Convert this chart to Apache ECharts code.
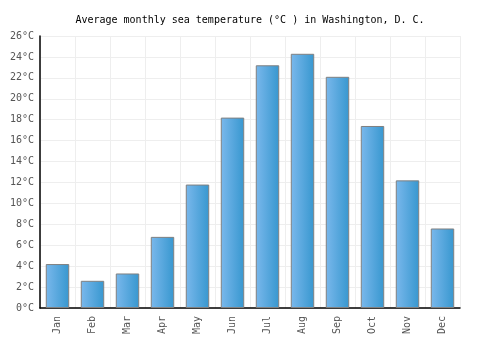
<!DOCTYPE html>
<html>
<head>
<meta charset="utf-8">
<script src="https://cdn.jsdelivr.net/npm/echarts@6/dist/echarts.min.js"></script>
<style>
  html, body { margin: 0; padding: 0; background: #fff; }
  #chart { width: 500px; height: 350px; }
</style>
</head>
<body>
<div id="chart"></div>
<script>
// 华盛顿月平均海水温度
const months = ['Jan', 'Feb', 'Mar', 'Apr', 'May', 'Jun', 'Jul', 'Aug', 'Sep', 'Oct', 'Nov', 'Dec']
const seaTemp = [4.2, 2.6, 3.3, 6.8, 11.8, 18.2, 23.2, 24.3, 22.1, 17.4, 12.2, 7.6]
const titleText = 'Average monthly sea temperature (°C ) in Washington, D. C.'
const yMin = 0, yMax = 26, yStep = 2

const mono = '"DejaVu Sans Mono", "Liberation Mono", monospace'

const chart = echarts.init(document.getElementById('chart'))

chart.setOption({
  animation: false,
  title: {
    text: titleText,
    left: 'center',
    top: 10,
    textStyle: { fontFamily: mono, fontSize: 10, fontWeight: 'normal', color: '#000' }
  },
  grid: { left: 40, right: 40, top: 36, bottom: 42 },
  xAxis: {
    type: 'category',
    data: months,
    axisLine: { lineStyle: { color: '#000', width: 1.5 } },
    axisTick: { show: false },
    splitLine: { show: true, lineStyle: { color: '#eeeeee', width: 1 } },
    axisLabel: { rotate: 90, margin: 8, fontFamily: mono, fontSize: 10, color: '#555' }
  },
  yAxis: {
    type: 'value',
    min: yMin,
    max: yMax,
    interval: yStep,
    axisLine: { show: true, lineStyle: { color: '#000', width: 1.5 } },
    axisTick: { show: false },
    splitLine: { lineStyle: { color: '#eeeeee', width: 1 } },
    axisLabel: { formatter: '{value}°C', margin: 6, fontFamily: mono, fontSize: 10, color: '#555' }
  },
  series: [{
    type: 'bar',
    data: seaTemp,
    barWidth: '67%',
    itemStyle: {
      borderColor: '#808080',
      borderWidth: 1,
      color: new echarts.graphic.LinearGradient(0, 0, 1, 0, [
        { offset: 0, color: '#7ab8ec' },
        { offset: 1, color: '#3797cf' }
      ])
    }
  }]
})
</script>
</body>
</html>
